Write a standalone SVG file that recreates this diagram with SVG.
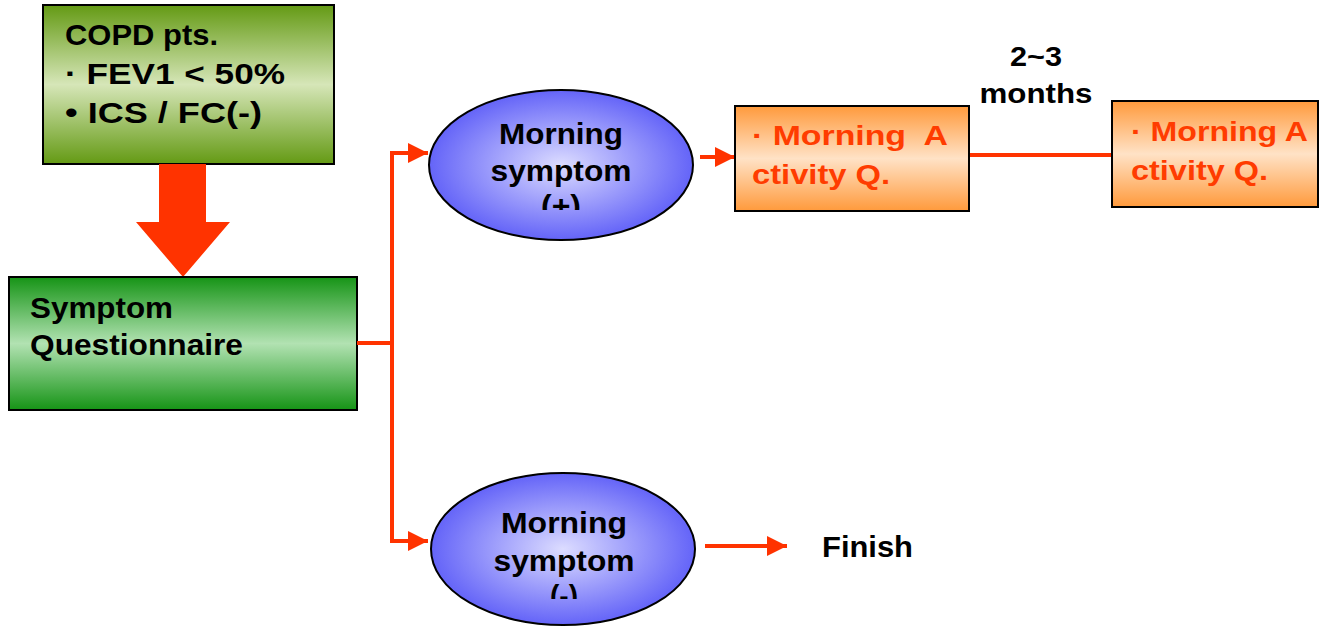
<svg xmlns="http://www.w3.org/2000/svg" width="1330" height="627" viewBox="0 0 1330 627">
<defs>
<linearGradient id="gOlive" x1="0" y1="0" x2="0" y2="1">
<stop offset="0" stop-color="#649a14"/><stop offset="0.5" stop-color="#d6e6b8"/><stop offset="1" stop-color="#649a14"/>
</linearGradient>
<linearGradient id="gGreen" x1="0" y1="0" x2="0" y2="1">
<stop offset="0" stop-color="#169416"/><stop offset="0.5" stop-color="#b2e2b2"/><stop offset="1" stop-color="#169416"/>
</linearGradient>
<linearGradient id="gOrange" x1="0" y1="0" x2="0" y2="1">
<stop offset="0" stop-color="#ff9a3c"/><stop offset="0.5" stop-color="#ffe2c6"/><stop offset="1" stop-color="#ff9a3c"/>
</linearGradient>
<radialGradient id="gBlue" cx="0.5" cy="0.5" r="0.5">
<stop offset="0" stop-color="#dcdcff"/><stop offset="1" stop-color="#6464f8"/>
</radialGradient>
<marker id="ah" viewBox="0 0 10 10" refX="10" refY="5" markerWidth="5" markerHeight="5" markerUnits="strokeWidth" orient="auto">
<path d="M0,0 L10,5 L0,10 z" fill="#ff3300"/>
</marker>
<clipPath id="c1"><rect x="420" y="80" width="290" height="130"/></clipPath>
<clipPath id="c2"><rect x="420" y="460" width="290" height="139"/></clipPath>
<style>
.t{font-family:"Liberation Sans",Arial,sans-serif;font-weight:bold;fill:#000}
.o{font-family:"Liberation Sans",Arial,sans-serif;font-weight:bold;fill:#ff3c00}
.box{stroke:#000;stroke-width:2}
.ln{stroke:#ff3300;stroke-width:4;fill:none}
</style>
</defs>

<g id="copd">
<rect class="box" x="43" y="5" width="291" height="159" fill="url(#gOlive)"/>
<text class="t" font-size="30" x="65" y="45" textLength="153" lengthAdjust="spacingAndGlyphs">COPD pts.</text>
<text class="t" font-size="30" x="65" y="84" textLength="220" lengthAdjust="spacingAndGlyphs">· FEV1 &lt; 50%</text>
<text class="t" font-size="30" x="65" y="123" textLength="197" lengthAdjust="spacingAndGlyphs">• ICS / FC(-)</text>
</g>

<g id="bigarrow">
<polygon points="159,164 206,164 206,222 230,222 183,277 136,222 159,222" fill="#ff3300"/>
</g>

<g id="questionnaire">
<rect class="box" x="9" y="277" width="348" height="133" fill="url(#gGreen)"/>
<text class="t" font-size="30" x="30" y="318" textLength="143" lengthAdjust="spacingAndGlyphs">Symptom</text>
<text class="t" font-size="30" x="30" y="355" textLength="213" lengthAdjust="spacingAndGlyphs">Questionnaire</text>
</g>

<g id="connectors">
<polyline class="ln" points="357,343 392,343"/>
<polyline class="ln" points="392,153 392,543"/>
<polyline class="ln" points="390,153 428,153" marker-end="url(#ah)"/>
<polyline class="ln" points="390,541 428,541" marker-end="url(#ah)"/>
<polyline class="ln" points="700,157 735,157" marker-end="url(#ah)"/>
<polyline class="ln" points="969,155 1112,155"/>
<polyline class="ln" points="705,546 787,546" marker-end="url(#ah)"/>
</g>

<g id="morningPlus">
<ellipse cx="561" cy="165" rx="132" ry="75" fill="url(#gBlue)" stroke="#000" stroke-width="2"/>
<g clip-path="url(#c1)">
<text class="t" font-size="29" x="561" y="144" text-anchor="middle" textLength="124" lengthAdjust="spacingAndGlyphs">Morning</text>
<text class="t" font-size="29" x="561" y="181" text-anchor="middle" textLength="141" lengthAdjust="spacingAndGlyphs">symptom</text>
<text class="t" font-size="29" x="561" y="216" text-anchor="middle" textLength="40" lengthAdjust="spacingAndGlyphs">(+)</text>
</g>
</g>

<g id="morningMinus">
<ellipse cx="563" cy="549" rx="132" ry="76" fill="url(#gBlue)" stroke="#000" stroke-width="2"/>
<g clip-path="url(#c2)">
<text class="t" font-size="29" x="564" y="533" text-anchor="middle" textLength="126" lengthAdjust="spacingAndGlyphs">Morning</text>
<text class="t" font-size="29" x="564" y="571" text-anchor="middle" textLength="141" lengthAdjust="spacingAndGlyphs">symptom</text>
<text class="t" font-size="29" x="564" y="606" text-anchor="middle" textLength="28" lengthAdjust="spacingAndGlyphs">(-)</text>
</g>
</g>

<g id="activity1">
<rect class="box" x="735" y="106" width="234" height="105" fill="url(#gOrange)"/>
<text class="o" font-size="28" x="752" y="145" xml:space="preserve" textLength="196" lengthAdjust="spacingAndGlyphs">· Morning  A</text>
<text class="o" font-size="28" x="752" y="184" textLength="138" lengthAdjust="spacingAndGlyphs">ctivity Q.</text>
</g>

<g id="months">
<text class="t" font-size="27" x="1036" y="66" text-anchor="middle" textLength="52" lengthAdjust="spacingAndGlyphs">2~3</text>
<text class="t" font-size="27" x="1036" y="103" text-anchor="middle" textLength="113" lengthAdjust="spacingAndGlyphs">months</text>
</g>

<g id="activity2">
<rect class="box" x="1112" y="101" width="206" height="106" fill="url(#gOrange)"/>
<text class="o" font-size="28" x="1131" y="141" textLength="177" lengthAdjust="spacingAndGlyphs">· Morning A</text>
<text class="o" font-size="28" x="1131" y="180" textLength="137" lengthAdjust="spacingAndGlyphs">ctivity Q.</text>
</g>

<g id="finish">
<text class="t" font-size="30" x="822" y="557" textLength="91" lengthAdjust="spacingAndGlyphs">Finish</text>
</g>
</svg>
